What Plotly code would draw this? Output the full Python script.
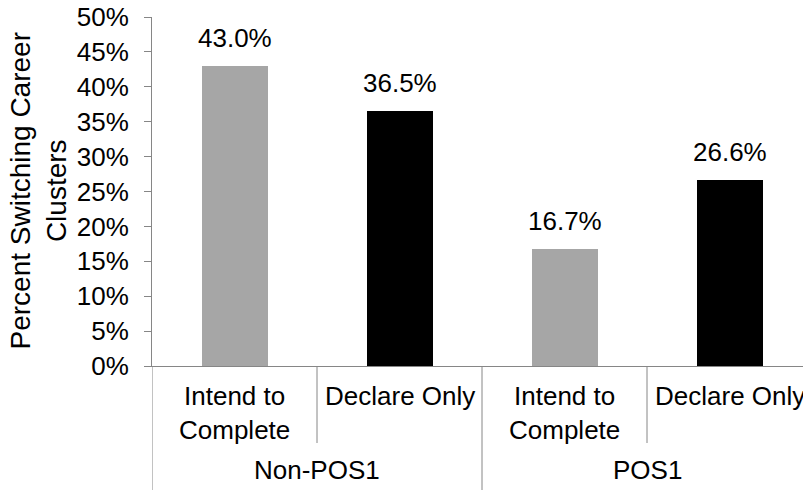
import plotly.graph_objects as go

# Chart data
groups = ["Non-POS1", "POS1"]
subcategories = ["Intend to<br>Complete", "Declare Only"]
values = [43.0, 36.5, 16.7, 26.6]
bar_colors = ["#a6a6a6", "#000000", "#a6a6a6", "#000000"]
y_ticks = [0, 5, 10, 15, 20, 25, 30, 35, 40, 45, 50]
y_title = "Percent Switching Career<br>Clusters"

FONT = "Liberation Sans, Arial, sans-serif"
FS = 26
TITLE_FS = 28
AXIS_GREY = "#868686"

n_sub = len(subcategories)
labels = [s for _ in groups for s in subcategories]
xpos = list(range(len(values)))

fig = go.Figure()
fig.add_trace(go.Bar(
    x=xpos, y=values, width=0.4,
    marker=dict(color=bar_colors, line=dict(width=0)),
    hoverinfo="skip", showlegend=False,
))

# Value labels above each bar
for x, v in zip(xpos, values):
    fig.add_annotation(x=x, y=v, xref="x", yref="y", text=f"{v:.1f}%",
                       showarrow=False, yanchor="bottom", yshift=11,
                       font=dict(family=FONT, size=FS, color="#000000"))

plot_h = 349  # pixel height of the plotting area

# Inner category labels and short separators
for x, lab in zip(xpos, labels):
    fig.add_annotation(x=x, y=0, xref="x", yref="paper", text=lab,
                       showarrow=False, yanchor="top", yshift=-13,
                       font=dict(family=FONT, size=FS, color="#000000"))
for k in range(1, len(values)):
    if k % n_sub != 0:
        fig.add_shape(type="line", xref="x", yref="paper",
                      x0=k - 0.5, x1=k - 0.5, y0=0, y1=-77 / plot_h,
                      line=dict(color=AXIS_GREY, width=1))

# Outer group labels and full-height separators
for g, name in enumerate(groups):
    center = g * n_sub + (n_sub - 1) / 2
    fig.add_annotation(x=center, y=0, xref="x", yref="paper", text=name,
                       showarrow=False, yanchor="top", yshift=-87,
                       font=dict(family=FONT, size=FS, color="#000000"))
for g in range(len(groups) + 1):
    xb = g * n_sub - 0.5
    fig.add_shape(type="line", xref="x", yref="paper",
                  x0=xb, x1=xb, y0=0, y1=-130 / plot_h,
                  line=dict(color=AXIS_GREY, width=1))

# Rotated y-axis title
fig.add_annotation(x=0, y=0.5, xref="paper", yref="paper", text=y_title,
                   showarrow=False, textangle=-90, xanchor="center",
                   yanchor="middle", xshift=-114,
                   font=dict(family=FONT, size=TITLE_FS, color="#000000"))

fig.update_layout(
    width=803, height=490,
    margin=dict(l=152, r=0, t=17, b=124, pad=0),
    paper_bgcolor="#ffffff", plot_bgcolor="#ffffff",
    font=dict(family=FONT, size=FS, color="#000000"),
    bargap=0,
)
fig.update_xaxes(
    range=[-0.5, -0.5 + 651 / 165], showticklabels=False, ticks="",
    showgrid=False, zeroline=False, showline=True,
    linecolor=AXIS_GREY, linewidth=1,
)
fig.update_yaxes(
    range=[0, 50], tickvals=y_ticks, ticktext=[f"{t}%" for t in y_ticks],
    ticks="outside", ticklen=7, tickcolor=AXIS_GREY, tickwidth=1,
    ticklabelstandoff=10,
    showgrid=False, zeroline=False, showline=True,
    linecolor=AXIS_GREY, linewidth=1,
    tickfont=dict(family=FONT, size=FS, color="#000000"),
)

fig.write_html("out.html")
